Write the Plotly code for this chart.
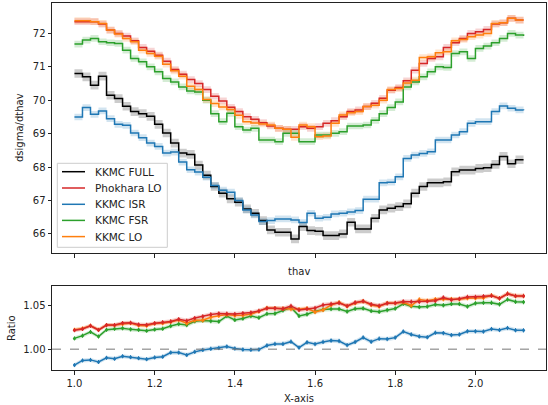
import math
import plotly.graph_objects as go
from plotly.subplots import make_subplots

thav = [1.00, 1.02, 1.04, 1.06, 1.08, 1.10, 1.12, 1.14, 1.16, 1.18,
        1.20, 1.22, 1.24, 1.26, 1.28, 1.30, 1.32, 1.34, 1.36, 1.38,
        1.40, 1.42, 1.44, 1.46, 1.48, 1.50, 1.52, 1.54, 1.56, 1.58,
        1.60, 1.62, 1.64, 1.66, 1.68, 1.70, 1.72, 1.74, 1.76, 1.78,
        1.80, 1.82, 1.84, 1.86, 1.88, 1.90, 1.92, 1.94, 1.96, 1.98,
        2.00, 2.02, 2.04, 2.06, 2.08, 2.10, 2.12]

kkmc_full = [70.80, 70.70, 70.45, 70.72, 70.15, 70.05, 69.82, 69.66, 69.60, 69.52,
             69.28, 69.02, 68.72, 68.42, 68.38, 68.06, 67.76, 67.42, 67.22, 67.05,
             66.95, 66.75, 66.62, 66.40, 66.12, 66.05, 66.05, 65.85, 66.22, 66.10,
             66.08, 65.95, 65.95, 66.00, 66.35, 66.15, 66.15, 66.47, 66.72, 66.77,
             66.82, 66.90, 67.22, 67.42, 67.53, 67.53, 67.56, 67.86, 67.91, 67.91,
             67.96, 67.98, 68.08, 68.32, 68.10, 68.22, 68.22]

phokhara_lo = [72.35, 72.35, 72.35, 72.28, 72.10, 72.00, 71.92, 71.78, 71.58, 71.47,
               71.35, 71.17, 70.92, 70.78, 70.62, 70.50, 70.32, 70.12, 69.98, 69.79,
               69.66, 69.51, 69.43, 69.33, 69.23, 69.16, 69.13, 69.13, 69.21, 69.16,
               69.21, 69.31, 69.39, 69.51, 69.66, 69.71, 69.81, 69.91, 70.06, 70.30,
               70.38, 70.58, 70.90, 71.10, 71.25, 71.30, 71.58, 71.72, 71.85, 72.00,
               72.05, 72.12, 72.28, 72.32, 72.45, 72.40, 72.40]

kkmc_isr = [69.50, 69.78, 69.58, 69.68, 69.45, 69.28, 69.25, 69.02, 68.88, 68.72,
            68.62, 68.42, 68.45, 68.15, 67.92, 67.85, 67.70, 67.45, 67.31, 67.25,
            67.00, 66.72, 66.57, 66.37, 66.40, 66.45, 66.45, 66.42, 66.34, 66.62,
            66.47, 66.50, 66.60, 66.62, 66.66, 66.70, 67.04, 67.04, 67.53, 67.55,
            67.71, 68.26, 68.36, 68.41, 68.46, 68.81, 68.81, 68.96, 69.06, 69.31,
            69.36, 69.36, 69.66, 69.83, 69.76, 69.71, 69.70]

kkmc_fsr = [71.68, 71.80, 71.85, 71.75, 71.72, 71.70, 71.50, 71.25, 71.15, 71.00,
            70.85, 70.65, 70.55, 70.40, 70.28, 70.25, 70.00, 69.60, 69.36, 69.61,
            69.21, 69.11, 69.16, 68.81, 68.81, 68.76, 69.01, 69.01, 68.76, 68.76,
            68.96, 68.96, 69.01, 69.06, 69.23, 69.23, 69.26, 69.40, 69.60, 69.78,
            69.95, 70.40, 70.55, 70.70, 70.85, 71.00, 70.98, 71.40, 71.45, 71.25,
            71.55, 71.62, 71.72, 71.85, 72.00, 71.95, 71.92]

kkmc_lo = [72.38, 72.38, 72.35, 72.30, 72.10, 71.98, 71.85, 71.75, 71.50, 71.40,
           71.32, 71.08, 70.88, 70.72, 70.42, 70.32, 70.02, 69.90, 69.80, 69.72,
           69.55, 69.36, 69.32, 69.29, 69.26, 69.16, 69.13, 68.89, 69.26, 69.21,
           68.91, 68.93, 69.31, 69.56, 69.63, 69.66, 69.81, 69.85, 70.00, 70.32,
           70.35, 70.52, 70.60, 71.28, 71.30, 71.42, 71.45, 71.78, 71.82, 71.90,
           71.95, 72.00, 72.30, 72.32, 72.45, 72.40, 72.40]

# estimated half-widths of the uncertainty bands
err_full = 0.13
err_pho = 0.10
err_isr = 0.10
err_fsr = 0.10
err_lo = 0.10

series_names = ["KKMC FULL", "Phokhara LO", "KKMC ISR", "KKMC FSR", "KKMC LO"]
series_vals = [kkmc_full, phokhara_lo, kkmc_isr, kkmc_fsr, kkmc_lo]
series_errs = [err_full, err_pho, err_isr, err_fsr, err_lo]
colors = ["#000000", "#d62728", "#1f77b4", "#2ca02c", "#ff7f0e"]
bands = ["rgba(0,0,0,0.2)", "rgba(214,39,40,0.2)", "rgba(31,119,180,0.2)",
         "rgba(44,160,44,0.2)", "rgba(255,127,14,0.2)"]

fig = make_subplots(rows=2, cols=1, shared_xaxes=False)

# top panel: step lines with bands
for name, vals, e, c, b in zip(series_names, series_vals, series_errs, colors, bands):
    up = [v + e for v in vals]
    lo = [v - e for v in vals]
    fig.add_trace(go.Scatter(x=thav, y=up, mode="lines", line=dict(width=0, shape="hv"),
                             showlegend=False, hoverinfo="skip"), row=1, col=1)
    fig.add_trace(go.Scatter(x=thav, y=lo, mode="lines", line=dict(width=0, shape="hv"),
                             fill="tonexty", fillcolor=b, showlegend=False,
                             hoverinfo="skip"), row=1, col=1)
for name, vals, c in zip(series_names, series_vals, colors):
    fig.add_trace(go.Scatter(x=thav, y=vals, mode="lines", name=name,
                             line=dict(color=c, width=1.5, shape="hv")), row=1, col=1)

# bottom panel: ratios to KKMC FULL
ratio_order = [2, 3, 4, 1]
for k in ratio_order:
    vals = series_vals[k]
    e = series_errs[k]
    r = [v / f for v, f in zip(vals, kkmc_full)]
    re = [ri * math.sqrt((e / v) ** 2 + (err_full / f) ** 2)
          for ri, v, f in zip(r, vals, kkmc_full)]
    fig.add_trace(go.Scatter(x=thav, y=[a + d for a, d in zip(r, re)], mode="lines",
                             line=dict(width=0), showlegend=False, hoverinfo="skip"),
                  row=2, col=1)
    fig.add_trace(go.Scatter(x=thav, y=[a - d for a, d in zip(r, re)], mode="lines",
                             line=dict(width=0), fill="tonexty", fillcolor=bands[k],
                             showlegend=False, hoverinfo="skip"), row=2, col=1)
    fig.add_trace(go.Scatter(x=thav, y=r, mode="lines+markers", showlegend=False,
                             line=dict(color=colors[k], width=1.5),
                             marker=dict(color=colors[k], size=3),
                             error_y=dict(type="data", array=re, color=colors[k],
                                          thickness=1, width=0)),
                  row=2, col=1)

fig.add_shape(type="line", xref="x2 domain", yref="y2", x0=0, x1=1, y0=1.0, y1=1.0,
              line=dict(color="#777777", width=1, dash="dash"))

W, H = 548, 405
L, R, T, B = 52, 2, 3, 35
plot_h = H - T - B
def py(p):
    return (H - B - p) / plot_h
def px(p):
    return (p - L) / (W - L - R)

axis_common = dict(showline=True, mirror=True, linecolor="#222", linewidth=1,
                   ticks="outside", ticklen=3.5, tickwidth=0.8, tickcolor="#222",
                   showgrid=False, zeroline=False,
                   tickfont=dict(family="DejaVu Sans", size=10, color="#222"))

fig.update_layout(
    width=W, height=H, margin=dict(l=L, r=R, t=T, b=B),
    paper_bgcolor="white", plot_bgcolor="white",
    font=dict(family="DejaVu Sans", size=10, color="#222"),
    xaxis=dict(domain=[0, 1], range=[0.944, 2.176], tickvals=[1.0, 1.2, 1.4, 1.6, 1.8, 2.0],
               showticklabels=False, anchor="y", **axis_common),
    yaxis=dict(domain=[py(253), 1], range=[65.43, 72.91], tickvals=[66, 67, 68, 69, 70, 71, 72],
               anchor="x", **axis_common),
    xaxis2=dict(domain=[0, 1], range=[0.944, 2.176], tickvals=[1.0, 1.2, 1.4, 1.6, 1.8, 2.0],
                tickformat=".1f", anchor="y2", **axis_common),
    yaxis2=dict(domain=[0, py(286)], range=[0.976, 1.0728], tickvals=[1.00, 1.05],
                tickformat=".2f", anchor="x2", **axis_common),
    showlegend=False,
)

# legend box drawn like matplotlib's (frame, line samples, labels)
fig.add_shape(type="rect", xref="paper", yref="paper", layer="above",
              x0=px(57.3), x1=px(167.3), y0=py(247.3), y1=py(163.3),
              fillcolor="rgba(255,255,255,0.82)", line=dict(color="#cccccc", width=1))
legend_y = [171.7, 188.0, 204.3, 220.4, 236.6]
for name, c, yy in zip(series_names, colors, legend_y):
    fig.add_shape(type="line", xref="paper", yref="paper", layer="above",
                  x0=px(62), x1=px(85), y0=py(yy), y1=py(yy),
                  line=dict(color=c, width=1.5))
    fig.add_annotation(xref="paper", yref="paper", showarrow=False,
                       x=px(93), y=py(yy), xanchor="left", yanchor="middle", text=name,
                       font=dict(family="DejaVu Sans", size=10.5, color="#222"))

annots = [
    dict(text="thav", x=px(299), y=py(271)),
    dict(text="X-axis", x=px(299), y=py(398)),
    dict(text="dsigma/dthav", x=px(19), y=py(128), textangle=-90),
    dict(text="Ratio", x=px(11), y=py(328), textangle=-90),
]
for a in annots:
    fig.add_annotation(xref="paper", yref="paper", showarrow=False,
                       xanchor="center", yanchor="middle",
                       font=dict(family="DejaVu Sans", size=10, color="#222"), **a)

fig.write_html("out.html", config={"displayModeBar": False},
               post_script="document.body.style.margin='0';document.body.style.padding='0';")
